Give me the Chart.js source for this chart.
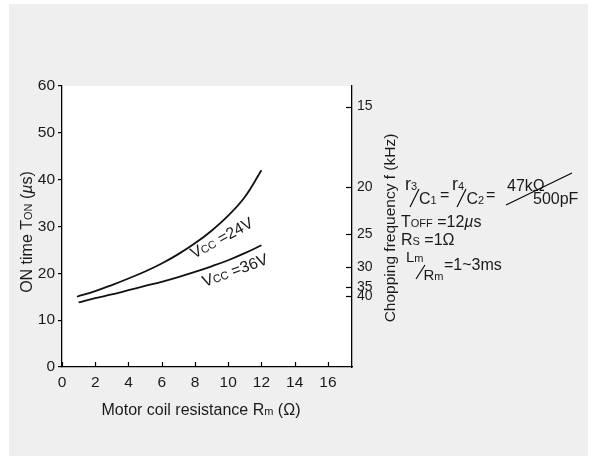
<!DOCTYPE html>
<html>
<head>
<meta charset="utf-8">
<script src="https://cdn.jsdelivr.net/npm/chart.js@4/dist/chart.umd.min.js"></script>
<style>
html,body{margin:0;padding:0;background:#fff;}
#c{display:block;}
</style>
</head>
<body>
<canvas id="c" width="594" height="456"></canvas>
<script>
// ---- data ----
const rm24  = [0.9, 2, 3, 4, 5, 6, 7, 8, 9, 10, 11, 12];
const ton24 = [15, 16.2, 17.5, 18.9, 20.4, 22.1, 24.1, 26.4, 29.1, 32.3, 36.3, 42];
const rm36  = [1, 2, 3, 4, 5, 6, 7, 8, 9, 10, 11, 12];
const ton36 = [13.8, 14.7, 15.5, 16.4, 17.3, 18.2, 19.2, 20.3, 21.5, 22.8, 24.3, 26];
const xTicks = [0, 2, 4, 6, 8, 10, 12, 14, 16];
const yTicks = [0, 10, 20, 30, 40, 50, 60];
const freqLabels = ['15', '20', '25', '30', '35', '40'];
const freqTonPos = [55.6, 38.5, 28.4, 21.4, 17.0, 15.1];
const seriesLabels = ['24V', '36V'];

const FONT = '"Liberation Sans", Arial, Helvetica, sans-serif';
const INK = '#1a1a1a';

function rich(ctx, x, y, segs, align) {
  let w = 0;
  segs.forEach(s => {
    ctx.font = (s.it ? 'italic ' : '') + (s.s || 16) + 'px ' + FONT;
    s.w = ctx.measureText(s.t).width;
    w += s.w;
  });
  let cx = align === 'center' ? x - w / 2 : x;
  ctx.textAlign = 'left';
  ctx.textBaseline = 'alphabetic';
  segs.forEach(s => {
    ctx.font = (s.it ? 'italic ' : '') + (s.s || 16) + 'px ' + FONT;
    ctx.fillText(s.t, cx, y + (s.dy || 0));
    cx += s.w;
  });
  return w;
}
function line(ctx, x1, y1, x2, y2, w) {
  ctx.beginPath(); ctx.lineWidth = w || 1.1; ctx.moveTo(x1, y1); ctx.lineTo(x2, y2); ctx.stroke();
}

const decor = {
  id: 'decor',
  beforeDraw(chart) {
    const ctx = chart.ctx, a = chart.chartArea;
    ctx.save();
    ctx.fillStyle = '#ffffff';
    ctx.fillRect(0, 0, chart.width, chart.height);
    ctx.fillStyle = '#efefef';
    ctx.fillRect(9, 4, 579, chart.height - 4);
    ctx.fillStyle = '#ffffff';
    ctx.fillRect(a.left, a.top, a.right - a.left, a.bottom - a.top);
    ctx.restore();
  },
  afterDraw(chart) {
    const ctx = chart.ctx, a = chart.chartArea;
    const xs = chart.scales.x, yr = chart.scales.yr;
    ctx.save();
    ctx.strokeStyle = '#000';
    ctx.fillStyle = INK;
    // inward ticks on bottom axis
    xTicks.forEach(v => { const px = Math.round(xs.getPixelForValue(v)) + 0.5; line(ctx, px, a.bottom, px, a.bottom - 5, 1.2); });
    // inward ticks on right axis
    freqTonPos.forEach(v => { const py = Math.round(yr.getPixelForValue(v)) + 0.5; line(ctx, a.right, py, a.right - 6, py, 1.2); });

    // axis titles
    rich(ctx, 201, 415, [
      {t: 'Motor coil resistance R'}, {t: 'm', s: 11}, {t: ' (Ω)'}
    ], 'center');
    ctx.save();
    ctx.translate(26, 232); ctx.rotate(-Math.PI / 2);
    rich(ctx, 0, 5.7, [
      {t: 'ON time T'}, {t: 'ON', s: 11}, {t: ' ('}, {t: 'µ', it: true}, {t: 's)'}
    ], 'center');
    ctx.restore();
    ctx.save();
    ctx.translate(389, 228); ctx.rotate(-Math.PI / 2);
    rich(ctx, 0, 5.5, [{t: 'Chopping frequency f (kHz)', s: 15.5}], 'center');
    ctx.restore();

    // curve labels anchored to data coordinates
    const ys = chart.scales.y;
    const lab = [[9.6, 27.6, -28.5, seriesLabels[0]], [10.4, 20.7, -20, seriesLabels[1]]];
    lab.forEach(([vx, vy, ang, txt]) => {
      ctx.save();
      ctx.translate(xs.getPixelForValue(vx), ys.getPixelForValue(vy));
      ctx.rotate(ang * Math.PI / 180);
      rich(ctx, 0, 5.5, [{t: 'V'}, {t: 'CC', s: 11}, {t: ' =' + txt}], 'center');
      ctx.restore();
    });

    // conditions text block
    rich(ctx, 405, 190, [{t: 'r', s: 18}, {t: '3', s: 11}]);
    line(ctx, 410, 207, 419, 189);
    rich(ctx, 419, 204, [{t: 'C'}, {t: '1', s: 11}]);
    rich(ctx, 440, 200, [{t: '='}]);
    rich(ctx, 452, 190, [{t: 'r', s: 18}, {t: '4', s: 11}]);
    line(ctx, 457, 207, 466, 189);
    rich(ctx, 466.5, 204, [{t: 'C'}, {t: '2', s: 11}]);
    rich(ctx, 486, 200, [{t: '='}]);
    rich(ctx, 507, 191, [{t: '47kΩ'}]);
    line(ctx, 506, 205, 572, 173);
    rich(ctx, 533, 204, [{t: '500pF'}]);

    rich(ctx, 401, 227, [{t: 'T'}, {t: 'OFF', s: 11}, {t: ' =12'}, {t: 'µ', it: true}, {t: 's'}]);
    rich(ctx, 401, 245, [{t: 'R'}, {t: 'S', s: 11}, {t: ' =1Ω'}]);

    rich(ctx, 406, 262, [{t: 'L', s: 15}, {t: 'm', s: 11}]);
    line(ctx, 416, 279, 425, 265);
    rich(ctx, 423.5, 280, [{t: 'R', s: 15}, {t: 'm', s: 11}]);
    rich(ctx, 444, 270, [{t: '=1~3ms'}]);
    ctx.restore();
  }
};

const tickFont = {family: FONT, size: 15.5};
new Chart(document.getElementById('c'), {
  type: 'line',
  data: {
    datasets: [
      {label: 'VCC=' + seriesLabels[0], data: rm24.map((x, i) => ({x, y: ton24[i]})),
       borderColor: '#111', borderWidth: 1.8, pointRadius: 0, tension: 0.4, fill: false},
      {label: 'VCC=' + seriesLabels[1], data: rm36.map((x, i) => ({x, y: ton36[i]})),
       borderColor: '#111', borderWidth: 1.8, pointRadius: 0, tension: 0.4, fill: false}
    ]
  },
  options: {
    responsive: false,
    animation: false,
    layout: {padding: {top: 86, left: 0, right: 0, bottom: 0}},
    plugins: {legend: {display: false}, tooltip: {enabled: false}},
    scales: {
      x: {
        type: 'linear', min: 0, max: 17.45,
        afterBuildTicks: s => { s.ticks = xTicks.map(v => ({value: v})); },
        afterFit: s => { s.height = 89; },
        grid: {display: false, drawTicks: false},
        border: {display: true, color: '#000', width: 1.3},
        ticks: {font: tickFont, color: INK, padding: 6, autoSkip: false, maxRotation: 0, callback: v => String(v)}
      },
      y: {
        type: 'linear', position: 'left', min: 0, max: 60,
        afterBuildTicks: s => { s.ticks = yTicks.map(v => ({value: v})); },
        afterFit: s => { s.width = 62; },
        grid: {display: true, drawOnChartArea: false, drawTicks: true, tickLength: 4, color: '#000', lineWidth: 1.2},
        border: {display: true, color: '#000', width: 1.3},
        ticks: {font: tickFont, color: INK, padding: 3, autoSkip: false}
      },
      yr: {
        type: 'linear', position: 'right', min: 0, max: 60,
        afterBuildTicks: s => { s.ticks = freqTonPos.map(v => ({value: v})); },
        afterFit: s => { s.width = 594 - 352; },
        grid: {display: false, drawTicks: false},
        border: {display: true, color: '#000', width: 1.3},
        ticks: {font: {family: FONT, size: 14}, color: INK, padding: 5, autoSkip: false,
          callback: (v, i) => freqLabels[i]}
      }
    }
  },
  plugins: [decor]
});
</script>
</body>
</html>
